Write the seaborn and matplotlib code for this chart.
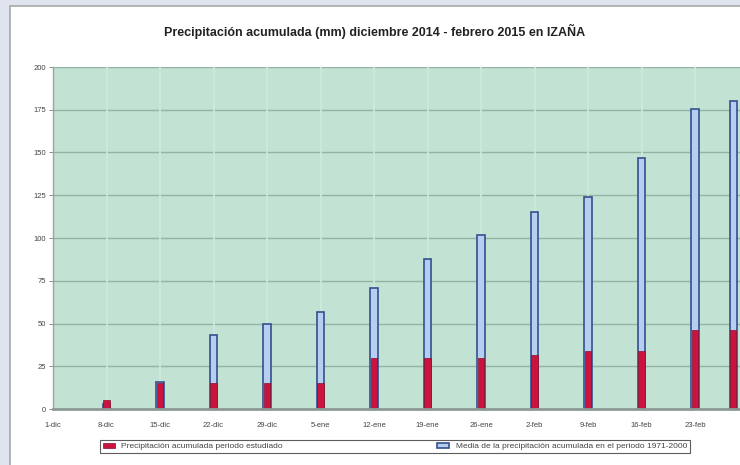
import matplotlib
matplotlib.use("Agg")
import matplotlib.pyplot as plt
from matplotlib.patches import Rectangle
import numpy as np
import pandas as pd
import seaborn as sns

# Fechas de corte semanales (y final de febrero)
fechas = ["2014-12-08", "2014-12-15", "2014-12-22", "2014-12-29", "2015-01-05",
          "2015-01-12", "2015-01-19", "2015-01-26", "2015-02-02", "2015-02-09",
          "2015-02-16", "2015-02-23", "2015-02-28"]
# Precipitación acumulada en el periodo estudiado (mm)
acumulada = [5, 15, 15, 15, 15, 30, 30, 30, 31.5, 34, 34, 46, 46]
# Media de la precipitación acumulada 1971-2000 (mm)
media = [3, 15.5, 43, 50, 57, 71, 88, 102, 115, 124, 147, 175.5, 180]

etiquetas_x = ["1-dic", "8-dic", "15-dic", "22-dic", "29-dic", "5-ene", "12-ene",
               "19-ene", "26-ene", "2-feb", "9-feb", "16-feb", "23-feb"]
ticks_y = [0, 25, 50, 75, 100, 125, 150, 175, 200]

inicio = pd.Timestamp("2014-12-01")
dias = [(pd.Timestamp(f) - inicio).days for f in fechas]
df = pd.DataFrame({"dia": dias, "acumulada": acumulada, "media": media})

sns.set_theme(style="white")
plt.rcParams["font.family"] = ["Liberation Sans", "DejaVu Sans"]

W, H = 740, 465
fig = plt.figure(figsize=(W / 100, H / 100), dpi=100)
fig.patch.set_facecolor("#dfe4ee")

# Marco blanco del gráfico
marco = Rectangle((10 / W, -0.01), 1, 1 - 6 / H + 0.01, transform=fig.transFigure,
                  facecolor="white", edgecolor="#a9a9a9", lw=1.2, zorder=-10)
fig.patches.append(marco)

ax = fig.add_axes([53 / W, 56 / H, 695.5 / W, 342 / H])
ax.set_zorder(1)
ax.set_facecolor("#c2e2d4")

paso = min(np.diff(sorted(dias)))
sns.barplot(data=df, x="dia", y="media", native_scale=True, ax=ax,
            width=0.95 / paso, color="#b6cff0", edgecolor="#34508f", linewidth=1.2,
            errorbar=None, saturation=1,
            label="Media de la precipitación acumulada en el periodo 1971-2000", zorder=3)
sns.barplot(data=df, x="dia", y="acumulada", native_scale=True, ax=ax,
            width=0.82 / paso, color="#c8143f", edgecolor="#8c0c2c", linewidth=0.5,
            errorbar=None, saturation=1,
            label="Precipitación acumulada periodo estudiado", zorder=4)
if ax.get_legend() is not None:
    ax.get_legend().remove()

ax.set_xlim(0, 91)
ax.set_ylim(0, 200)
ax.set_xticks(range(0, 91, 7))
ax.set_xticklabels(etiquetas_x)
ax.set_yticks(ticks_y)
ax.set_yticklabels([str(v) for v in ticks_y])
ax.set_xlabel("")
ax.set_ylabel("")

# Rejilla
for v in ticks_y[1:]:
    ax.axhline(v, color="#93b3a5", lw=1.0, zorder=1)
for d in range(7, 91, 7):
    ax.axvline(d, color="#cfeadc", lw=1.2, zorder=1)

for s in ["top", "right"]:
    ax.spines[s].set_visible(False)
ax.spines["left"].set_color("#9aa7a0")
ax.spines["left"].set_linewidth(1.0)
ax.spines["bottom"].set_color("#8d9a94")
ax.spines["bottom"].set_linewidth(2.0)
ax.spines["bottom"].set_zorder(5)

ax.tick_params(axis="y", length=3, width=0.6, color="#777777", pad=2,
               labelsize=5.5, labelcolor="#444444", left=True)
ax.tick_params(axis="x", length=0, pad=9, labelsize=5.5, labelcolor="#444444")

fig.text(375 / W, 1 - 31 / H,
         "Precipitación acumulada (mm) diciembre 2014 - febrero 2015 en IZAÑA",
         ha="center", va="center", fontsize=9, fontweight="bold", color="#222222")

h, l = ax.get_legend_handles_labels()
orden = [1, 0]
leg = fig.legend([h[i] for i in orden], [l[i] for i in orden],
                 loc="center", bbox_to_anchor=(395 / W, 1 - 446.5 / H),
                 ncol=2, fontsize=6, frameon=True, fancybox=False,
                 edgecolor="#333333", columnspacing=18.5, handlelength=1.4,
                 handleheight=0.6, borderpad=0.35, handletextpad=0.8)
leg.get_frame().set_linewidth(0.8)
for t in leg.get_texts():
    t.set_color("#444444")

fig.savefig("out.png", dpi=100)
